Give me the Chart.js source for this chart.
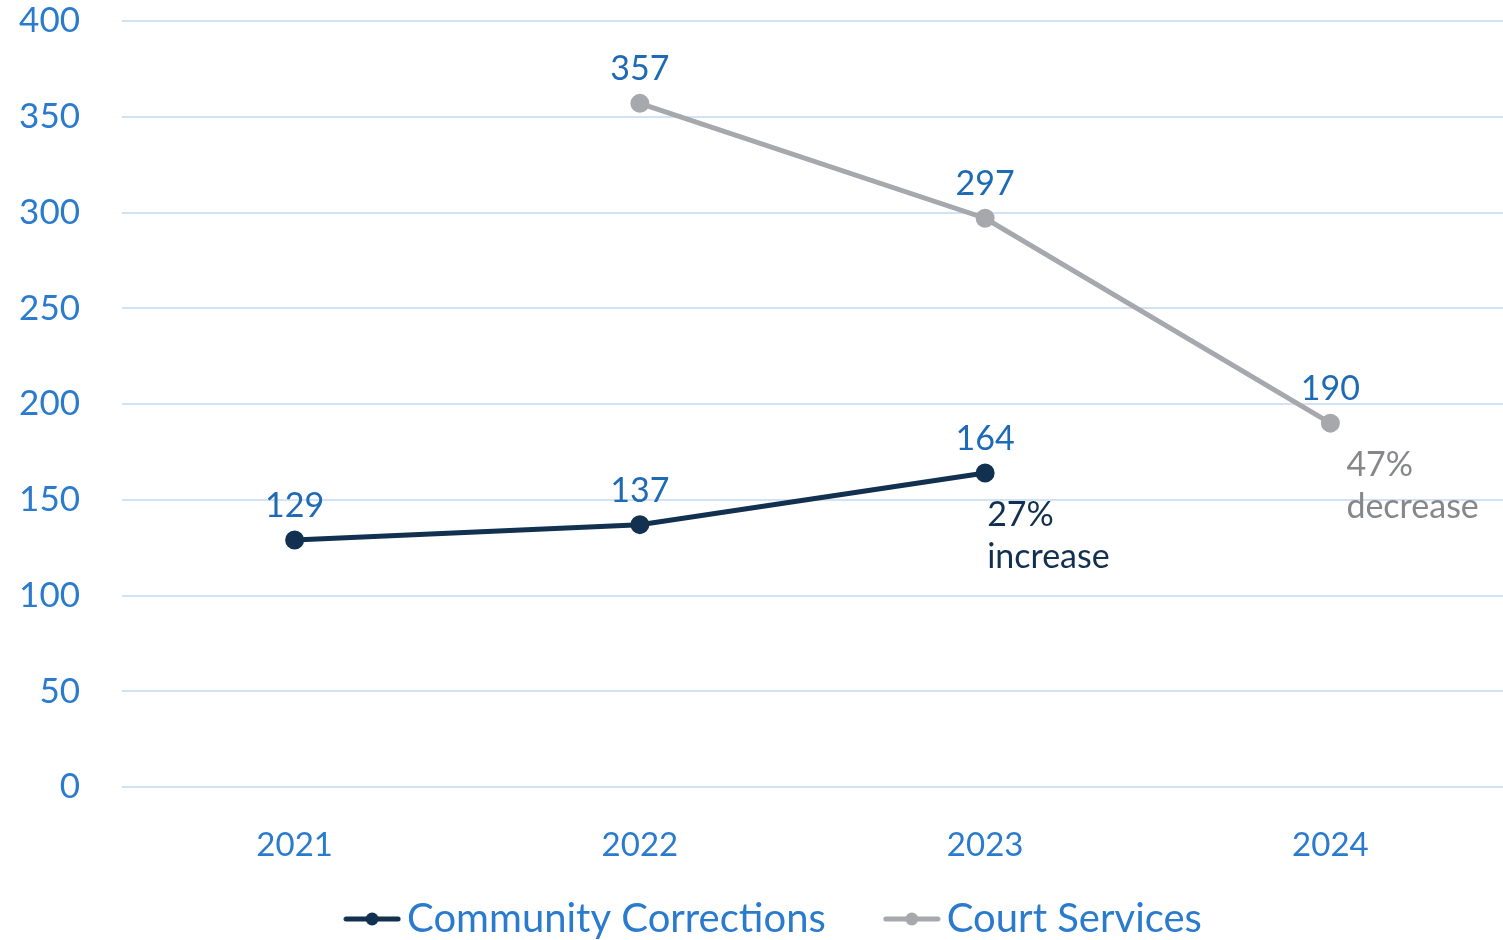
<!DOCTYPE html>
<html>
<head>
<meta charset="utf-8">
<script src="https://cdn.jsdelivr.net/npm/chart.js@4/dist/chart.umd.min.js"></script>
<style>
  html, body { margin: 0; padding: 0; background: #fff; overflow: hidden; }
  #wrap { width: 1503px; height: 940px; }
</style>
</head>
<body>
<div id="wrap"><canvas id="chart"></canvas></div>
<script>
const years = ["2021", "2022", "2023", "2024"];
const communityCorrections = [129, 137, 164, null];
const courtServices = [null, 357, 297, 190];
const yTicks = [0, 50, 100, 150, 200, 250, 300, 350, 400];

// change notes shown under the last point of each series
const notes = [
  { dataset: 0, index: 2, dx: 2, lines: ["27%", "increase"], color: "#12304f" },
  { dataset: 1, index: 3, dx: 16, lines: ["47%", "decrease"], color: "#86878b" },
];

const FONT = "Lato, 'Open Sans', sans-serif";
const BLUE = "#2a7bce";
const NAVY = "#12304f";
const GREY = "#a6a8ad";

// legend swatch: short line with a dot in the middle
function swatch(color) {
  const c = document.createElement("canvas");
  c.width = 58;
  c.height = 14;
  const g = c.getContext("2d");
  g.strokeStyle = color;
  g.lineWidth = 5;
  g.lineCap = "round";
  g.beginPath();
  g.moveTo(3, 7);
  g.lineTo(55, 7);
  g.stroke();
  g.fillStyle = color;
  g.beginPath();
  g.arc(29, 7, 6.5, 0, Math.PI * 2);
  g.fill();
  return c;
}

const valueLabels = {
  id: "valueLabels",
  afterDatasetsDraw(chart) {
    const ctx = chart.ctx;
    ctx.save();
    ctx.textAlign = "center";
    ctx.textBaseline = "middle";
    ctx.font = "34px " + FONT;
    ctx.fillStyle = "#1f6ab4";
    chart.data.datasets.forEach((ds, i) => {
      chart.getDatasetMeta(i).data.forEach((pt, j) => {
        if (ds.data[j] == null) return;
        ctx.fillText(String(ds.data[j]), pt.x, pt.y - 34);
      });
    });
    ctx.textAlign = "left";
    for (const n of notes) {
      const pt = chart.getDatasetMeta(n.dataset).data[n.index];
      ctx.fillStyle = n.color;
      n.lines.forEach((line, k) => {
        ctx.fillText(line, pt.x + n.dx, pt.y + 42 + k * 42);
      });
    }
    ctx.restore();
  },
};

// nudge the legend a little left of centre and up (keep its bottom so nothing is clipped)
const legendShift = {
  id: "legendShift",
  afterLayout(chart) {
    const lg = chart.legend;
    lg.left -= 33;
    lg.right -= 33;
    lg.top -= 5;
    lg.bottom = chart.height;
  },
};

new Chart(document.getElementById("chart"), {
  type: "line",
  data: {
    labels: years,
    datasets: [
      {
        label: "Community Corrections",
        data: communityCorrections,
        borderColor: NAVY,
        backgroundColor: NAVY,
        borderWidth: 5,
        pointRadius: 7,
        pointHoverRadius: 7,
      },
      {
        label: "Court Services",
        data: courtServices,
        borderColor: GREY,
        backgroundColor: GREY,
        borderWidth: 5,
        pointRadius: 7,
        pointHoverRadius: 7,
      },
    ],
  },
  options: {
    responsive: true,
    maintainAspectRatio: false,
    animation: false,
    spanGaps: false,
    layout: { autoPadding: false, padding: { top: 18, right: 0, left: 0, bottom: 0 } },
    scales: {
      x: {
        offset: true,
        grid: { display: false, drawTicks: true, tickLength: 39 },
        border: { display: false },
        ticks: {
          color: BLUE,
          font: { family: FONT, size: 33 },
          padding: 0,
        },
        afterFit: (s) => {
          s.paddingLeft = 0;
          s.paddingRight = 0;
          s.height = 46;
          // year labels sit partly below the axis box, so skip its clip
          s._computeLabelArea = () => undefined;
        },
      },
      y: {
        min: 0,
        max: 400,
        afterBuildTicks: (s) => {
          s.ticks = yTicks.map((v) => ({ value: v }));
        },
        afterFit: (s) => {
          s.width = 122;
        },
        grid: {
          color: "#d0e2f4",
          lineWidth: 2,
          drawTicks: true,
          tickLength: 42,
          tickColor: "rgba(0,0,0,0)",
        },
        border: { display: false },
        ticks: {
          color: BLUE,
          font: { family: FONT, size: 35 },
          padding: 0,
        },
      },
    },
    plugins: {
      tooltip: { enabled: false },
      legend: {
        position: "bottom",
        fullSize: false,
        maxHeight: 107,
        labels: {
          color: BLUE,
          font: { family: FONT, size: 40 },
          usePointStyle: true,
          pointStyleWidth: 30,
          padding: 71,
          generateLabels: (chart) =>
            chart.data.datasets.map((ds, i) => ({
              text: ds.label,
              fontColor: BLUE,
              pointStyle: swatch(ds.borderColor),
              datasetIndex: i,
              hidden: false,
              lineWidth: 0,
            })),
        },
      },
    },
  },
  plugins: [valueLabels, legendShift],
});
</script>
</body>
</html>
